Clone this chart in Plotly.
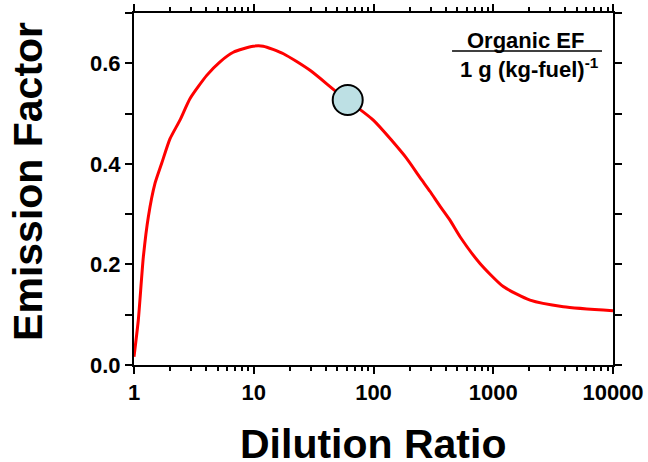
import plotly.graph_objects as go

# Curve data
dilution = [1, 1.086, 1.197, 1.318, 1.497, 1.703, 2.0, 2.42, 2.94, 4.05, 5.23, 6.75,
            9.9, 12.0, 17.7, 29.5, 49.2, 99.6, 189, 244, 297, 359, 435, 528, 775,
            1213, 2028, 3846, 10000]
emission = [0.0165, 0.089, 0.215, 0.295, 0.361, 0.401, 0.450, 0.487, 0.530, 0.576,
            0.603, 0.622, 0.634, 0.634, 0.619, 0.586, 0.543, 0.487, 0.411, 0.373,
            0.345, 0.316, 0.288, 0.255, 0.202, 0.156, 0.129, 0.116, 0.108]

# Highlighted point
point_x = [60.9]
point_y = [0.527]

x_tickvals = [1, 10, 100, 1000, 10000]
x_ticktext = ["1", "10", "100", "1000", "10000"]
x_minor = [m * d for d in [1, 10, 100, 1000] for m in range(2, 10)]

FONT = "Liberation Sans, Arial, sans-serif"

fig = go.Figure()
fig.add_trace(go.Scatter(x=dilution, y=emission, mode="lines",
                         line=dict(color="#ff0000", width=3, shape="spline", smoothing=0.6),
                         showlegend=False))
fig.add_trace(go.Scatter(x=point_x, y=point_y, mode="markers",
                         marker=dict(size=30, color="#bde0e4",
                                     line=dict(color="black", width=2)),
                         showlegend=False))

fig.update_layout(
    width=648, height=462,
    margin=dict(l=134, r=35, t=13, b=97),
    plot_bgcolor="white", paper_bgcolor="white",
    font=dict(family=FONT, color="black"),
    xaxis=dict(type="log", range=[0, 4], tickvals=x_tickvals, ticktext=x_ticktext,
               automargin=False,
               ticks="outside", ticklen=7, tickwidth=2, tickcolor="black",
               showline=True, linewidth=2, linecolor="black", mirror="allticks",
               showgrid=False, zeroline=False,
               tickfont=dict(size=22, weight="bold", family=FONT),
               minor=dict(tickvals=x_minor, ticks="outside", ticklen=4,
                          tickwidth=1.5, tickcolor="black", showgrid=False)),
    yaxis=dict(range=[0, 0.7], dtick=0.2, tick0=0, tickformat=".1f",
               automargin=False,
               ticks="outside", ticklen=7, tickwidth=2, tickcolor="black",
               showline=True, linewidth=2, linecolor="black", mirror="allticks",
               showgrid=False, zeroline=False,
               tickfont=dict(size=22, weight="bold", family=FONT),
               minor=dict(dtick=0.1, ticks="outside", ticklen=7,
                          tickwidth=1.5, tickcolor="black", showgrid=False)),
)

fig.add_annotation(text="Dilution Ratio", xref="paper", yref="paper",
                   x=0.498, y=-0.224, xanchor="center", yanchor="middle",
                   showarrow=False, font=dict(size=41, weight="bold", family=FONT))
fig.add_annotation(text="Emission Factor", xref="paper", yref="paper",
                   x=-0.2213, y=0.523, xanchor="center", yanchor="middle",
                   textangle=-90, showarrow=False,
                   font=dict(size=41, weight="bold", family=FONT))
fig.add_annotation(text="Organic EF", xref="paper", yref="paper",
                   x=0.8163, y=0.923, xanchor="center", yanchor="middle",
                   showarrow=False, font=dict(size=22, weight="bold", family=FONT))
fig.add_annotation(text="1 g (kg-fuel)<sup>-1</sup>", xref="paper", yref="paper",
                   x=0.8267, y=0.845, xanchor="center", yanchor="middle",
                   showarrow=False, font=dict(size=22, weight="bold", family=FONT))
fig.add_shape(type="line", xref="paper", yref="paper",
              x0=0.664, x1=0.977, y0=0.892, y1=0.892,
              line=dict(color="black", width=1.5))

fig.write_html("out.html")
